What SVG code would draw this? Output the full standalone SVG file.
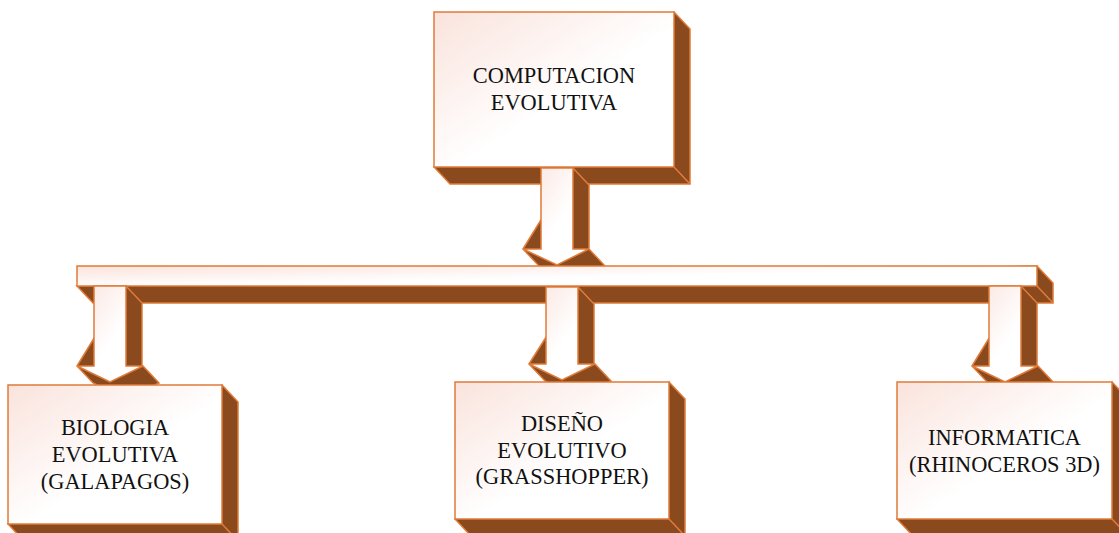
<svg xmlns="http://www.w3.org/2000/svg" width="1119" height="533" viewBox="0 0 1119 533">
<defs>
<linearGradient id="face" x1="0" y1="0" x2="1" y2="1">
<stop offset="0" stop-color="#FAE3DC"/>
<stop offset="0.55" stop-color="#FFFFFF"/>
<stop offset="1" stop-color="#FFFFFF"/>
</linearGradient>
<style>
.front{fill:url(#face);stroke:#E07B39;stroke-width:1.5;stroke-linejoin:miter}
.ext{fill:#8B4A1E;stroke:#E07B39;stroke-width:1.5;stroke-linejoin:miter}
.edge{fill:none;stroke:#E07B39;stroke-width:1.5}
.lbl{font-family:"Liberation Serif","Times New Roman",serif;font-size:22.4px;fill:#111;text-anchor:middle}
</style>
</defs>
<rect width="1119" height="533" fill="#FFFFFF"/>

<g id="node-computacion">
<polygon class="ext" points="674,12 690,29 690,184 450,184 434,167"/>
<line class="edge" x1="674" y1="167" x2="690" y2="184"/>
<rect class="front" x="434" y="12" width="240" height="155"/>
<text class="lbl" x="554" y="83">COMPUTACION</text>
<text class="lbl" x="554" y="110">EVOLUTIVA</text>
</g>

<g id="connectors">
<g id="arrow-top">
<polygon class="ext" points="573,168 589,185 589,249 605,266 573,282 539,266 523,249"/>
<polygon class="front" points="541,168 573,168 573,249 589,249 557,265 523,249 541,249"/>
</g>
<g id="bar">
<polygon class="ext" points="1037,266 1053,283 1053,303 93,303 77,286"/>
<line class="edge" x1="1037" y1="286" x2="1053" y2="303"/>
<rect class="front" x="77" y="266" width="960" height="20"/>
</g>
<g id="arrow-left">
<polygon class="ext" points="126,286 142,303 142,366 143,366 159,383 126,399 93,383 77,366"/>
<polygon class="front" points="94,286 126,286 126,366 143,366 110,382 77,366 94,366"/>
</g>
<g id="arrow-mid">
<polygon class="ext" points="578,287 594,304 594,364 595,364 611,381 578,397 545,381 529,364"/>
<polygon class="front" points="546,287 578,287 578,364 595,364 562,380 529,364 546,364"/>
</g>
<g id="arrow-right">
<polygon class="ext" points="1021,286 1037,303 1037,366 1038,366 1054,383 1021,399 988,383 972,366"/>
<polygon class="front" points="989,286 1021,286 1021,366 1038,366 1005,382 972,366 989,366"/>
</g>
</g>

<g id="node-biologia">
<polygon class="ext" points="222,385 238,402 238,541 24,541 8,524"/>
<line class="edge" x1="222" y1="524" x2="238" y2="541"/>
<rect class="front" x="8" y="385" width="214" height="139"/>
<text class="lbl" x="115" y="435">BIOLOGIA</text>
<text class="lbl" x="115" y="462">EVOLUTIVA</text>
<text class="lbl" x="115" y="489">(GALAPAGOS)</text>
</g>

<g id="node-diseno">
<polygon class="ext" points="669,382 685,399 685,536 471,536 455,519"/>
<line class="edge" x1="669" y1="519" x2="685" y2="536"/>
<rect class="front" x="455" y="382" width="214" height="137"/>
<text class="lbl" x="562" y="431">DISEÑO</text>
<text class="lbl" x="562" y="458">EVOLUTIVO</text>
<text class="lbl" x="562" y="484">(GRASSHOPPER)</text>
</g>

<g id="node-informatica">
<polygon class="ext" points="1112,382 1128,399 1128,536 913,536 897,519"/>
<line class="edge" x1="1112" y1="519" x2="1128" y2="536"/>
<rect class="front" x="897" y="382" width="215" height="137"/>
<text class="lbl" x="1004.5" y="445">INFORMATICA</text>
<text class="lbl" x="1004.5" y="472">(RHINOCEROS 3D)</text>
</g>
</svg>
